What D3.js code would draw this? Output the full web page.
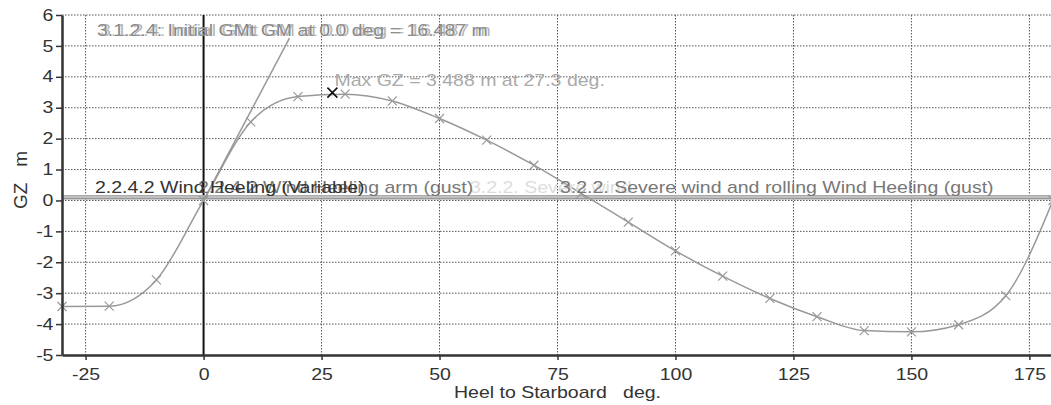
<!DOCTYPE html>
<html>
<head>
<meta charset="utf-8">
<script src="https://cdn.jsdelivr.net/npm/d3@7"></script>
<style>
  body { margin: 0; background: #fff; }
  svg { display: block; font-family: "Liberation Sans", Arial, sans-serif; }
  svg text { white-space: pre; }
</style>
</head>
<body>
<div id="gz-chart"></div>
<script>
// Righting lever curve
const heel = [-30, -20, -10, 0, 10, 20, 30, 40, 50, 60, 70, 80, 90, 100, 110, 120, 130, 140, 150, 160, 170, 180];
const gz = [-3.43, -3.42, -2.57, 0, 2.54, 3.36, 3.44, 3.22, 2.65, 1.95, 1.14, 0.23, -0.70, -1.63, -2.45, -3.17, -3.76, -4.21, -4.25, -4.02, -3.08, 0];

// Initial GM slope line
const gmHeel = [0, 18.2];
const gmGz = [0, 5.25];

// Max GZ point
const maxHeel = [27.3];
const maxGz = [3.488];

// Wind heeling levers (three criteria, nearly the same arm)
const windLevers = [0.15, 0.11, 0.06];

const xTicks = [-25, 0, 25, 50, 75, 100, 125, 150, 175];
const yTicks = [-5, -4, -3, -2, -1, 0, 1, 2, 3, 4, 5, 6];

const width = 1051;
const height = 405;
const stretch = 1.22;

const svg = d3.select("#gz-chart")
    .append("svg")
    .attr("width", width)
    .attr("height", height);

const x = d3.scaleLinear().domain([-30, 180]).range([62, 1053]);
const y = d3.scaleLinear().domain([-5, 6]).range([355, 15]);

// helper: horizontally stretched text like the source picture
function label(g, tx, ty, str, opts) {
    opts = opts || {};
    return g.append("text")
        .attr("transform", `translate(${tx},${ty}) scale(${opts.sx || stretch},1)`)
        .attr("text-anchor", opts.anchor || "start")
        .attr("font-size", opts.size || 16)
        .attr("fill", opts.fill || "#333")
        .text(str);
}

// grid
const grid = svg.append("g");
grid.selectAll(".hgrid")
    .data(yTicks.filter(d => d !== -5))
    .enter().append("line")
    .attr("x1", x(-30)).attr("x2", width)
    .attr("y1", d => y(d)).attr("y2", d => y(d))
    .attr("stroke", "#555")
    .attr("stroke-width", 1)
    .attr("stroke-dasharray", "1.5,1.5");

grid.selectAll(".vgrid")
    .data(xTicks.filter(d => d !== 0))
    .enter().append("line")
    .attr("x1", d => x(d)).attr("x2", d => x(d))
    .attr("y1", y(6)).attr("y2", y(-5))
    .attr("stroke", "#555")
    .attr("stroke-width", 1)
    .attr("stroke-dasharray", "1.5,1.5");

// zero heel line
svg.append("line")
    .attr("x1", x(0)).attr("x2", x(0))
    .attr("y1", y(6)).attr("y2", y(-5))
    .attr("stroke", "#111")
    .attr("stroke-width", 2);

// wind heeling levers
const windColors = ["#aaa", "#bbb", "#999"];
svg.selectAll(".wind")
    .data(windLevers)
    .enter().append("line")
    .attr("x1", x(-30)).attr("x2", width)
    .attr("y1", d => y(d)).attr("y2", d => y(d))
    .attr("stroke", (d, i) => windColors[i])
    .attr("stroke-width", 1.6);

// GM line
svg.append("path")
    .datum(gmHeel.map((h, i) => [h, gmGz[i]]))
    .attr("d", d3.line().x(d => x(d[0])).y(d => y(d[1])))
    .attr("fill", "none")
    .attr("stroke", "#999")
    .attr("stroke-width", 1.5);

// GZ curve
const pts = heel.map((h, i) => [h, gz[i]]);
svg.append("path")
    .datum(pts)
    .attr("d", d3.line().x(d => x(d[0])).y(d => y(d[1])).curve(d3.curveMonotoneX))
    .attr("fill", "none")
    .attr("stroke", "#999")
    .attr("stroke-width", 1.5);

const cross = s => `M${-s},${-s}L${s},${s}M${-s},${s}L${s},${-s}`;
svg.selectAll(".pt")
    .data(pts)
    .enter().append("path")
    .attr("transform", d => `translate(${x(d[0])},${y(d[1])})`)
    .attr("d", cross(4.5))
    .attr("stroke", "#999")
    .attr("stroke-width", 1.2);

svg.selectAll(".maxpt")
    .data(maxHeel.map((h, i) => [h, maxGz[i]]))
    .enter().append("path")
    .attr("transform", d => `translate(${x(d[0])},${y(d[1])})`)
    .attr("d", cross(5))
    .attr("stroke", "#111")
    .attr("stroke-width", 1.6);

// axes (plain hyphen for negatives, as in the source)
const yAxis = svg.append("g")
    .attr("transform", `translate(${x(-30)},0)`)
    .call(d3.axisLeft(y).tickValues(yTicks).tickFormat(d => String(d))
        .tickSize(6).tickSizeOuter(0).tickPadding(8));
const xAxis = svg.append("g")
    .attr("transform", `translate(0,${y(-5)})`)
    .call(d3.axisBottom(x).tickValues(xTicks).tickFormat(d => String(d))
        .tickSize(5).tickSizeOuter(0).tickPadding(9));

[yAxis, xAxis].forEach(a => {
    a.select(".domain").attr("stroke", "#333").attr("stroke-width", 2.5);
    a.selectAll(".tick line").attr("stroke", "#333").attr("stroke-width", 1.5);
    a.selectAll(".tick text")
        .attr("font-size", 16)
        .attr("fill", "#333")
        .attr("font-family", "Liberation Sans, Arial, sans-serif");
});
yAxis.selectAll(".tick text").attr("transform", `scale(${stretch},1)`).attr("x", -7);
xAxis.selectAll(".tick text").attr("transform", `scale(${stretch},1)`);

// axis titles
label(svg, x(75), 398, "Heel to Starboard   deg.", { anchor: "middle" });
svg.append("text")
    .attr("transform", "translate(27,180) rotate(-90)")
    .attr("text-anchor", "middle")
    .attr("font-size", 19)
    .attr("fill", "#333")
    .text("GZ   m");

// annotations
label(svg, 97, 36, "3.1.2.4: Initial GMt GM at 0.0 deg = 16.487 m", { fill: "#888" });
label(svg, 100, 36, "3.1.2.4: Initial GMt GM at 0.0 deg = 16.487 m", { fill: "#999" }).attr("opacity", 0.7);

label(svg, x(maxHeel[0]) + 2, y(maxGz[0]) - 7, "Max GZ = 3.488 m at 27.3 deg.", { fill: "#aaa" });

const windY = y(windLevers[0]) - 3;
label(svg, 470, windY, "3.2.2. Severe wind", { fill: "#ddd" });
label(svg, 198, windY, "2.2.4.2 Wind Heeling arm (gust)", { fill: "#777" });
label(svg, 95, windY, "2.2.4.2 Wind Heeling (Variable)", { fill: "#333" });
label(svg, 560, windY, "3.2.2. Severe wind and rolling Wind Heeling (gust)", { fill: "#777" });
</script>
</body>
</html>
